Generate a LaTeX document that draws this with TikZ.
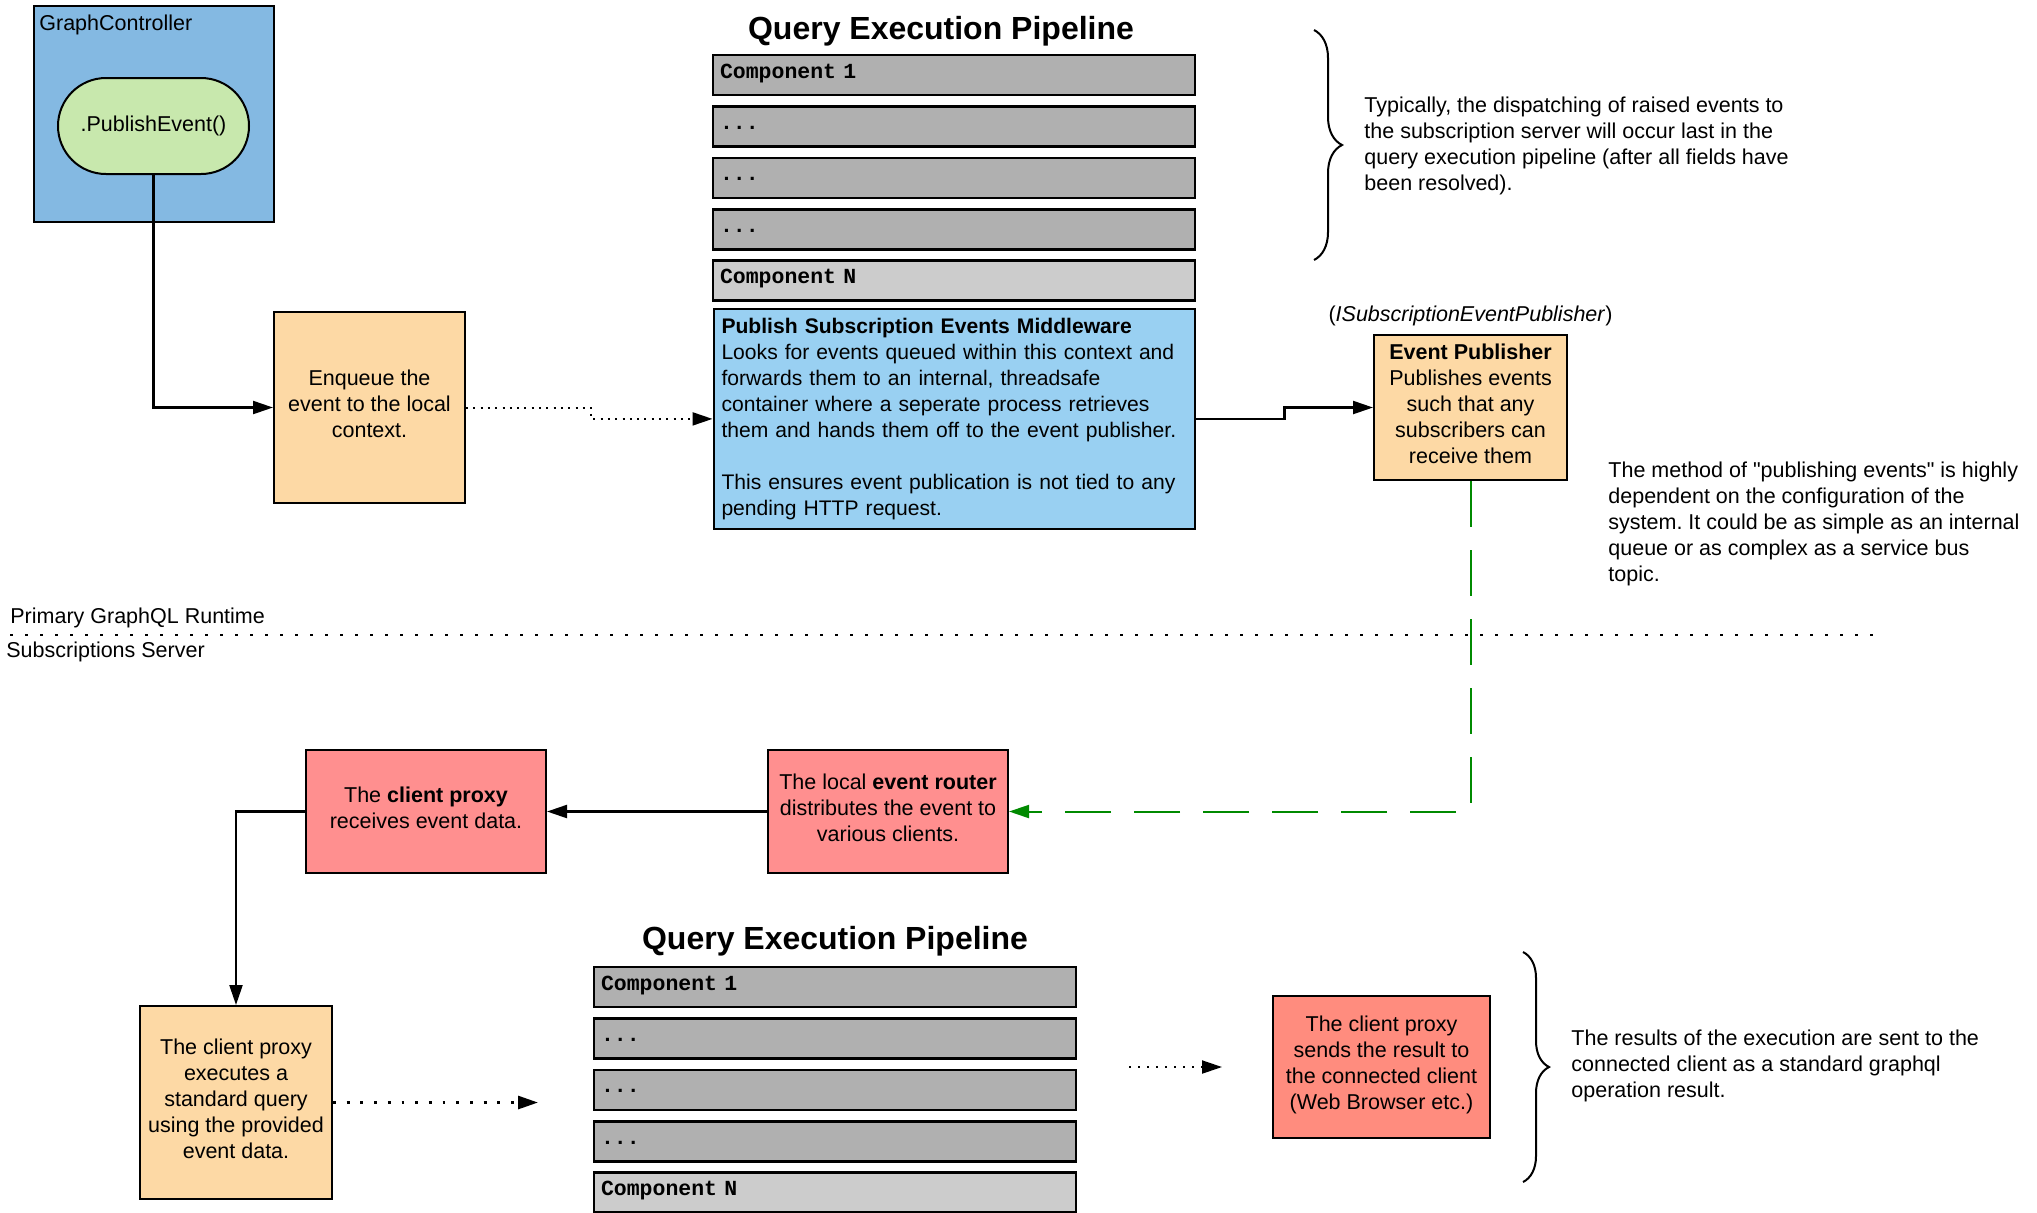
\documentclass[tikz,border=0pt]{standalone}
\usepackage{fontspec}
\setmainfont{Liberation Sans}[Ligatures=TeXOff]
\setmonofont{Liberation Mono}
\usetikzlibrary{arrows.meta, positioning, decorations.pathreplacing}
\definecolor{ctrlBlue}{HTML}{84B9E2}
\definecolor{pillGreen}{HTML}{C8E8AD}
\definecolor{stepOrange}{HTML}{FDD9A5}
\definecolor{mwBlue}{HTML}{99D0F2}
\definecolor{compGray}{HTML}{B0B0B0}
\definecolor{compLight}{HTML}{CCCCCC}
\definecolor{srvRed}{HTML}{FF8F8F}
\definecolor{srvSalmon}{HTML}{FF8C7E}
\definecolor{busGreen}{HTML}{008A00}
\frenchspacing

\begin{document}
\begin{tikzpicture}
[x=1pt, y=1pt,
 every node/.style={font=\fontsize{10.75}{13}\selectfont},
 ->/.style={line width=1.1pt, arrows={-Triangle[length=10pt, width=6.5pt]}},
 ..>/.style={line width=1pt, dash pattern=on 1pt off 2.65pt, arrows={-Triangle[length=10pt, width=6.5pt]}},
 -->/.style={line width=1pt, draw=busGreen, dash pattern=on 23pt off 11.5pt, arrows={-Triangle[length=10pt, width=6.5pt]}},
 sepline/.style={line width=1.4pt, dash pattern=on 1.4pt off 6.1pt},
 braceG/.style={line width=1pt, decorate, decoration={brace, amplitude=14pt}},
 titleG/.style={font=\fontsize{16}{19}\selectfont\bfseries},
 compG/.style={draw, line width=1.3pt, fill=compGray, minimum width=241pt, minimum height=20pt,
   text width=234pt, inner xsep=3.5pt, align=left, text height=7pt, text depth=4pt,
   font=\fontsize{10.75}{13}\selectfont\ttfamily\bfseries},
 lines/.style={align=center, execute at begin node={\rule{0pt}{9pt}}, execute at end node={\rule[-4pt]{0pt}{0pt}}},
 ctrlG/.style={draw, line width=1pt, fill=ctrlBlue, minimum width=120pt, minimum height=108pt},
 pillG/.style={draw, line width=1pt, fill=pillGreen, rounded corners=24pt, minimum width=95.5pt, minimum height=48pt},
 stepG/.style={draw, line width=1pt, fill=stepOrange, minimum width=95.5pt, minimum height=95.5pt, lines},
 mwG/.style={draw, line width=1pt, fill=mwBlue, text width=232.5pt, inner sep=4pt, minimum height=110pt, align=left,
   font=\fontsize{10.55}{13}\selectfont},
 srvG/.style={draw, line width=1pt, fill=srvRed, minimum width=120pt, minimum height=61.5pt, lines},
 noteG/.style={anchor=west, inner sep=0pt, align=left}]
\useasboundingbox (0,0) rectangle (1018.5,-606);

\node[ctrlG] (GC) at (77,-57) {};
\node[anchor=north west, inner sep=3pt] (GCL) at ([yshift=-2pt]GC.north west) {GraphController};
\node[pillG] (PE) at (76.75,-63) {.PublishEvent()};
\node[stepG] (EQ) at (184.75,-203.75) {Enqueue the\\event to the local\\context.};
\draw [->] (PE.south) |- (EQ.west);

\node[titleG] (QT1) at (470.5,-15.5) {Query Execution Pipeline};
\node[compG] (QC1) at (477,-37.5) {Component 1};
\node[compG] (QC2) [below=4.4 of QC1] {...};
\node[compG] (QC3) [below=4.4 of QC2] {...};
\node[compG] (QC4) [below=4.4 of QC3] {...};
\node[compG, fill=compLight] (QCN) [below=4.4 of QC4] {Component N};
\node[mwG] (MW) [below=3 of QCN] {\textbf{Publish Subscription Events Middleware}\\
Looks for events queued within this context and\\
forwards them to an internal, threadsafe\\
container where a seperate process retrieves\\
them and hands them off to the event publisher.\\[13pt]
This ensures event publication is not tied to any\\
pending HTTP request.};
\draw [..>] (EQ.east) -- ++(62.5,0) |- (MW.west);
\draw [braceG] (657,-15) -- (657,-130);
\node[noteG] (TN) at (682,-72.8) {Typically, the dispatching of raised events to\\
the subscription server will occur last in the\\
query execution pipeline (after all fields have\\
been resolved).};

\node[stepG, minimum width=96.5pt, minimum height=72.5pt] (EP) at (735.25,-203.75)
{\textbf{Event Publisher}\\Publishes events\\such that any\\subscribers can\\receive them};
\node (EPI) [above=0.7 of EP] {(\textit{ISubscriptionEventPublisher})};
\draw [->] (MW.east) -- ++(44.5,0) |- (EP.west);
\node[noteG] (EPN) at (804,-262) {The method of "publishing events" is highly\\
dependent on the configuration of the\\
system. It could be as simple as an internal\\
queue or as complex as a service bus\\
topic.};

\coordinate (SL) at (5,-317.5);
\coordinate (SR) at (942,-317.5);
\draw [sepline] (SL) -- (SR);
\node[noteG] (RT) at (5,-308.8) {Primary GraphQL Runtime};
\node[noteG] (SS) at (3,-326) {Subscriptions Server};

\node[srvG] (ER) at (444,-405.75) {The local \textbf{event router}\\distributes the event to\\various clients.};
\node[srvG] (CP) [left=110 of ER] {The \textbf{client proxy}\\receives event data.};
\draw [-->] (EP.south) |- (ER.east);
\draw [->] (ER) -- (CP);
\node[stepG, minimum width=96pt, minimum height=96.5pt] (CX) at (118,-551.25)
{The client proxy\\executes a\\standard query\\using the provided\\event data.};
\draw [->] (CP.west) -| (CX.north);

\node[titleG] (QT2) at (417.5,-470.7) {Query Execution Pipeline};
\node[compG] (BC1) at (417.5,-493.5) {Component 1};
\node[compG] (BC2) [below=4.4 of BC1] {...};
\node[compG] (BC3) [below=4.4 of BC2] {...};
\node[compG] (BC4) [below=4.4 of BC3] {...};
\node[compG, fill=compLight] (BCN) [below=4.4 of BC4] {Component N};
\coordinate [right=102.5 of CX.east] (CXo);
\draw [..>, line width=1.4pt, dash pattern=on 1.4pt off 5.45pt] (CX.east) -- (CXo);

\node[srvG, fill=srvSalmon, minimum width=108.5pt, minimum height=71pt] (CR) at (690.75,-533.5)
{The client proxy\\sends the result to\\the connected client\\(Web Browser etc.)};
\coordinate [left=25 of CR.west] (RB);
\coordinate [left=46.5 of RB] (RA);
\draw [..>, dash pattern=on 1pt off 3.5pt] (RA) -- (RB);
\draw [braceG, decoration={amplitude=13pt}] (761.5,-476) -- (761.5,-591);
\node[noteG] (BN) at (785.5,-533) {The results of the execution are sent to the\\
connected client as a standard graphql\\
operation result.};
\end{tikzpicture}
\end{document}
